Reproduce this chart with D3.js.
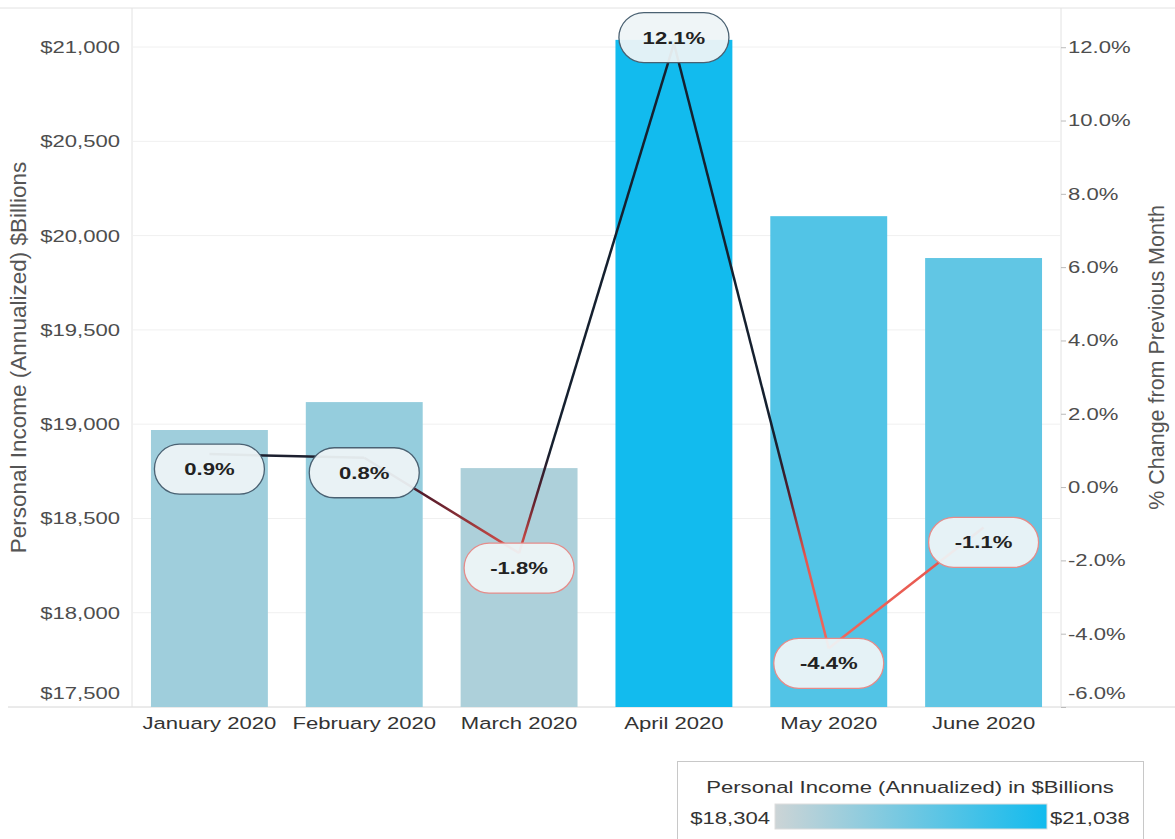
<!DOCTYPE html>
<html>
<head>
<meta charset="utf-8">
<script src="https://cdn.jsdelivr.net/npm/d3@7"></script>
<style>
  body { margin: 0; background: #fff; }
  svg text { font-family: "Liberation Sans", Arial, sans-serif; }
</style>
</head>
<body>
<svg id="chart" width="1175" height="839"></svg>
<script>
var svg = d3.select('#chart');

// Data
var months = ['January 2020', 'February 2020', 'March 2020', 'April 2020', 'May 2020', 'June 2020'];
var income = [18969, 19117, 18767, 21038, 20103, 19881];
var pctChange = [0.9, 0.8, -1.8, 12.1, -4.4, -1.1];
var incomeTicks = [17500, 18000, 18500, 19000, 19500, 20000, 20500, 21000];
var pctTicks = [-6, -4, -2, 0, 2, 4, 6, 8, 10, 12];
var legendRange = [18304, 21038];

// Layout
var plot = {l: 132, r: 1061, t: 8, b: 707};
var sx = 1.3; // horizontal stretch of the reference's lettering

var x = d3.scaleBand().domain(months).range([plot.l, plot.r])
    .paddingInner(0.245).paddingOuter(0.1225);
var yL = d3.scaleLinear().domain([17500, 21207]).range([plot.b, plot.t]);
var yR = d3.scaleLinear().domain([-6, 13.07]).range([plot.b, plot.t]);

var barColor = d3.scaleLinear().domain(legendRange).range(['#ccd4d6', '#12bbee']);
var lineColor = d3.scaleLinear().domain([-4.4, -1.8, -0.3, 1.0])
    .range(['#f06a5e', '#e6554d', '#5a1d2b', '#15202f']).clamp(true);

// frame lines
svg.append('line').attr('x1', 0).attr('x2', 1175).attr('y1', plot.t).attr('y2', plot.t)
    .attr('stroke', '#e2e2e2');
svg.append('line').attr('x1', 8).attr('x2', 1175).attr('y1', plot.b).attr('y2', plot.b)
    .attr('stroke', '#d6d6d6');
svg.append('line').attr('x1', plot.l).attr('x2', plot.l).attr('y1', plot.t).attr('y2', plot.b)
    .attr('stroke', '#e2e2e2');
svg.append('line').attr('x1', plot.r).attr('x2', plot.r).attr('y1', plot.t).attr('y2', plot.b)
    .attr('stroke', '#e2e2e2');

// gridlines
svg.append('g').selectAll('line')
    .data(incomeTicks.filter(function(d){ return d > 17500; }))
    .enter().append('line')
    .attr('x1', plot.l).attr('x2', plot.r)
    .attr('y1', function(d){ return yL(d); })
    .attr('y2', function(d){ return yL(d); })
    .attr('stroke', '#f0f0f0');

// left axis
var leftAxis = d3.axisLeft(yL).tickValues(incomeTicks).tickSize(0)
    .tickFormat(function(d){ return '$' + d3.format(',')(d); });
var gL = svg.append('g').attr('transform', 'translate(' + plot.l + ',0)').call(leftAxis);
gL.select('.domain').remove();
gL.selectAll('text')
    .attr('x', -12 / sx)
    .attr('transform', 'scale(' + sx + ',1)')
    .attr('dy', function(d){ return d === 17500 ? '-0.5em' : '0.32em'; })
    .style('font-size', '17px').attr('fill', '#4d4d4d');

// right axis
var rightAxis = d3.axisRight(yR).tickValues(pctTicks).tickSize(5)
    .tickFormat(function(d){ return d.toFixed(1) + '%'; });
var gR = svg.append('g').attr('transform', 'translate(' + plot.r + ',0)').call(rightAxis);
gR.select('.domain').remove();
gR.selectAll('line').attr('stroke', '#bbb');
gR.selectAll('text')
    .attr('x', 7 / sx)
    .attr('transform', 'scale(' + sx + ',1)')
    .attr('dy', function(d){ return d === -6 ? '-0.5em' : '0.32em'; })
    .style('font-size', '17px').attr('fill', '#4d4d4d');

// axis titles
svg.append('text')
    .attr('transform', 'translate(26,' + (plot.t + plot.b) / 2 + ') rotate(-90)')
    .attr('text-anchor', 'middle')
    .style('font-size', '22.5px').attr('fill', '#555')
    .text('Personal Income (Annualized) $Billions');
svg.append('text')
    .attr('transform', 'translate(1164,' + (plot.t + plot.b) / 2 + ') rotate(-90)')
    .attr('text-anchor', 'middle')
    .style('font-size', '21.5px').attr('fill', '#555')
    .text('% Change from Previous Month');

// bars
svg.append('g').selectAll('rect')
    .data(months).enter().append('rect')
    .attr('x', function(d){ return x(d); })
    .attr('width', x.bandwidth())
    .attr('y', function(d, i){ return yL(income[i]); })
    .attr('height', function(d, i){ return plot.b - yL(income[i]); })
    .attr('fill', function(d, i){ return barColor(income[i]); });

// x labels
svg.append('g').selectAll('text')
    .data(months).enter().append('text')
    .attr('transform', function(d){
        return 'translate(' + (x(d) + x.bandwidth() / 2) + ',729) scale(' + sx + ',1)';
    })
    .attr('text-anchor', 'middle')
    .style('font-size', '17px').attr('fill', '#333')
    .text(function(d){ return d; });

// line segments, coloured along their length by value
var pts = months.map(function(m, i){
    return {x: x(m) + x.bandwidth() / 2, y: yR(pctChange[i]), v: pctChange[i]};
});
var defs = svg.append('defs');
var lineG = svg.append('g');
for (var i = 0; i < pts.length - 1; i++) {
    var a = pts[i], b = pts[i + 1];
    var grad = defs.append('linearGradient').attr('id', 'seg' + i)
        .attr('gradientUnits', 'userSpaceOnUse')
        .attr('x1', a.x).attr('y1', a.y).attr('x2', b.x).attr('y2', b.y);
    d3.range(0, 1.0001, 0.05).forEach(function(t){
        grad.append('stop').attr('offset', t)
            .attr('stop-color', lineColor(a.v + (b.v - a.v) * t));
    });
    lineG.append('path')
        .attr('d', d3.line()([[a.x, a.y], [b.x, b.y]]))
        .attr('stroke', 'url(#seg' + i + ')')
        .attr('stroke-width', 2.5)
        .attr('fill', 'none');
}

// value labels (pills)
var maxV = d3.max(pctChange);
var labels = svg.append('g').selectAll('g')
    .data(pts).enter().append('g')
    .attr('transform', function(d){
        var dy = d.v === maxV ? -6 : 15;
        return 'translate(' + d.x + ',' + (d.y + dy) + ')';
    });
labels.append('rect')
    .attr('x', -55).attr('y', -25).attr('width', 110).attr('height', 50)
    .attr('rx', 25).attr('ry', 25)
    .attr('fill', '#eef4f7').attr('fill-opacity', 0.94)
    .attr('stroke', function(d){ return d.v >= 0 ? '#4a6172' : '#e58c8a'; })
    .attr('stroke-width', 1.3);
labels.append('text')
    .attr('transform', 'scale(' + sx + ',1)')
    .attr('text-anchor', 'middle').attr('dy', '0.35em')
    .style('font-size', '17px').style('font-weight', 'bold').attr('fill', '#222')
    .text(function(d){ return d.v.toFixed(1) + '%'; });

// colour legend
var lg = svg.append('g');
lg.append('rect').attr('x', 677.5).attr('y', 761.5).attr('width', 466).attr('height', 80)
    .attr('fill', '#fff').attr('stroke', '#c8c8c8');
lg.append('text')
    .attr('transform', 'translate(910,793) scale(' + sx + ',1)')
    .attr('text-anchor', 'middle')
    .style('font-size', '17px').attr('fill', '#333')
    .text('Personal Income (Annualized) in $Billions');
var lgGrad = defs.append('linearGradient').attr('id', 'lgGrad');
lgGrad.append('stop').attr('offset', 0).attr('stop-color', barColor(legendRange[0]));
lgGrad.append('stop').attr('offset', 1).attr('stop-color', barColor(legendRange[1]));
lg.append('rect').attr('x', 775).attr('y', 804).attr('width', 272).attr('height', 25)
    .attr('fill', 'url(#lgGrad)').attr('stroke', '#ddd');
lg.append('text')
    .attr('transform', 'translate(770,824) scale(' + sx + ',1)')
    .attr('text-anchor', 'end')
    .style('font-size', '17px').attr('fill', '#333')
    .text('$' + d3.format(',')(legendRange[0]));
lg.append('text')
    .attr('transform', 'translate(1050,824) scale(' + sx + ',1)')
    .style('font-size', '17px').attr('fill', '#333')
    .text('$' + d3.format(',')(legendRange[1]));
</script>
</body>
</html>
